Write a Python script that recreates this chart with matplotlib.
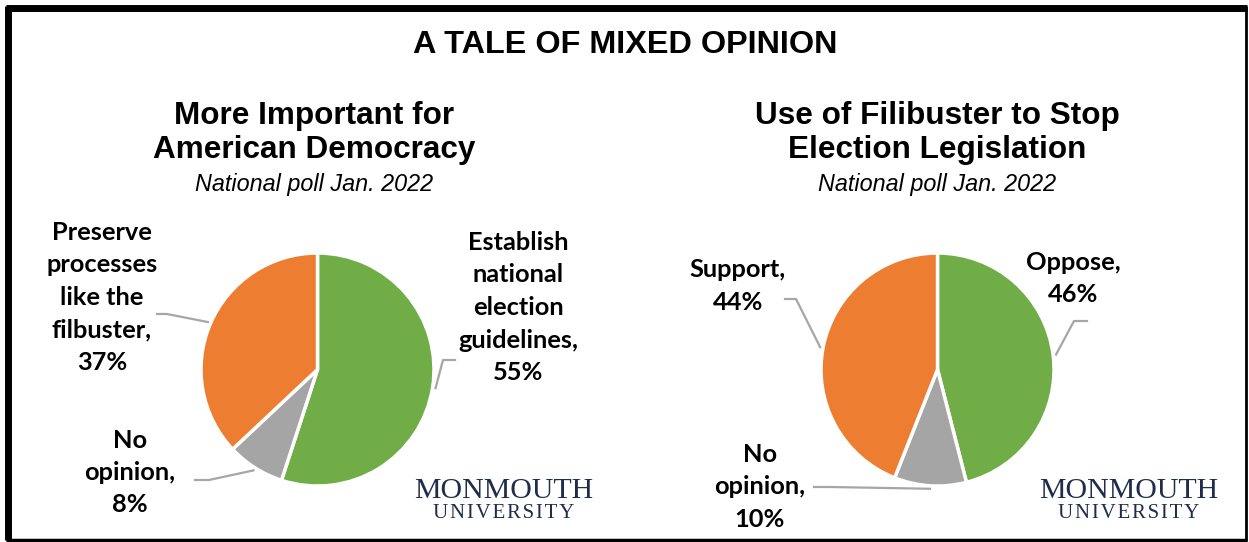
"""Two pie charts: Monmouth national poll, Jan. 2022."""
import numpy as np
import matplotlib
matplotlib.use("Agg")
import matplotlib.pyplot as plt

W, H = 1249, 542

# data
left_labels = ["Establish\nnational\nelection\nguidelines,\n55%", "No\nopinion,\n8%",
               "Preserve\nprocesses\nlike the\nfilbuster,\n37%"]
left_values = [55, 8, 37]
right_labels = ["Oppose,\n46%", "No\nopinion,\n10%", "Support,\n44%"]
right_values = [46, 10, 44]
colors = ["#70AD47", "#A5A5A5", "#ED7D31"]

LABEL_FONT = ["Lato", "DejaVu Sans"]
LINE_STEP = 32.5

fig = plt.figure(figsize=(W / 100, H / 100), dpi=100)


def pie_axes(cx, cy, r):
    return fig.add_axes([(cx - r) / W, (H - cy - r) / H, 2 * r / W, 2 * r / H])


def mid_point(cx, cy, r, values, idx):
    # rim point at the middle of wedge idx (clockwise from 12 o'clock)
    pct = (sum(values[:idx]) + 0.5 * values[idx]) / sum(values)
    ang = np.pi / 2 - 2 * np.pi * pct
    return cx + r * np.cos(ang), cy - r * np.sin(ang)


PIES = [
    dict(cx=317.5, cy=369.5, r=116.5, values=left_values, labels=left_labels,
         text_pos=[(518, 307.5), (130, 472.5), (102, 297.5)],
         leaders=[((455, 360), (443, 360)), ((195, 480), (209, 480)),
                  ((157, 314), (167, 314))]),
    dict(cx=937.5, cy=369.5, r=116.5, values=right_values, labels=right_labels,
         text_pos=[(1073, 278.5), (760, 487), (738, 286)],
         leaders=[((1087, 321), (1074, 321)), ((814, 487), (830, 487)),
                  ((785, 299), (796, 299))]),
]

for p in PIES:
    ax = pie_axes(p["cx"], p["cy"], p["r"])
    ax.pie(p["values"], colors=colors, startangle=90, counterclock=False,
           wedgeprops=dict(edgecolor="white", linewidth=2.5))
    ax.set_xlim(-1, 1)
    ax.set_ylim(-1, 1)
    ax.set_aspect("auto")
    ax.axis("off")

# overlay in pixel coordinates
ov = fig.add_axes([0, 0, 1, 1], facecolor="none")
ov.set_xlim(0, W)
ov.set_ylim(H, 0)
ov.axis("off")

for p in PIES:
    for i, lab in enumerate(p["labels"]):
        tx, ty = p["text_pos"][i]
        lines = lab.split("\n")
        y0 = ty - LINE_STEP * (len(lines) - 1) / 2
        for k, line in enumerate(lines):
            ov.text(tx, y0 + k * LINE_STEP, line, ha="center", va="center",
                    fontsize=18.3, fontweight="bold", family=LABEL_FONT, zorder=5)
        a, b = p["leaders"][i]
        ex, ey = mid_point(p["cx"], p["cy"], p["r"] + 3, p["values"], i)
        ov.plot([a[0], b[0], ex], [a[1], b[1], ey], color="#A6A6A6", lw=1.6, zorder=4)

ov.text(625, 45, "A TALE OF MIXED OPINION", ha="center", va="center",
        fontsize=23.3, fontweight="bold", family="Liberation Sans")

for cx, (t1, t2) in [(314, ("More Important for", "American Democracy")),
                     (937, ("Use of Filibuster to Stop", "Election Legislation"))]:
    ov.text(cx, 116, t1, ha="center", va="center", fontsize=22.7, fontweight="bold",
            family="Liberation Sans")
    ov.text(cx, 150, t2, ha="center", va="center", fontsize=22.7, fontweight="bold",
            family="Liberation Sans")
    ov.text(cx, 184, "National poll Jan. 2022", ha="center", va="center",
            fontsize=16.8, style="italic", family="Liberation Sans")

for cx in [504, 1129]:
    ov.text(cx, 491, "MONMOUTH", ha="center", va="center", fontsize=21.5,
            family="Liberation Serif", color="#1F2D4A")
    ov.text(cx, 514, "\u200a".join("UNIVERSITY"), ha="center",
            va="center", fontsize=15, family="Liberation Serif", color="#1F2D4A")

# outer frame
ov.plot([8, 8], [6, 540], color="black", lw=5, solid_capstyle="butt")
ov.plot([6, 1247], [8, 8], color="black", lw=5, solid_capstyle="butt")
ov.plot([6, 1247], [539.5, 539.5], color="black", lw=2.5, solid_capstyle="butt")
ov.plot([1246.5, 1246.5], [6, 541], color="black", lw=2, solid_capstyle="butt")

fig.savefig("out.png", dpi=100)
